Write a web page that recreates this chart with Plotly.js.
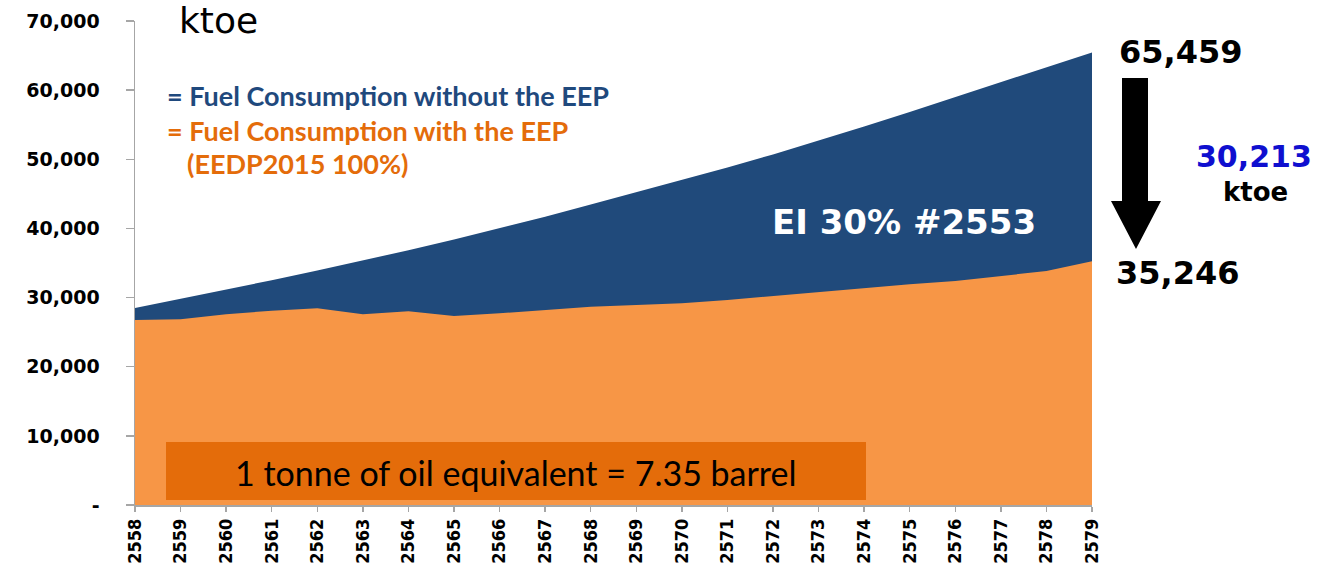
<!DOCTYPE html>
<html>
<head>
<meta charset="utf-8">
<script src="https://cdn.plot.ly/plotly-3.0.1.min.js"></script>
<style>
  html, body { margin: 0; padding: 0; background: #ffffff; }
  #chart { width: 1324px; height: 564px; }
</style>
</head>
<body>
<div id="chart"></div>
<script>
// ---- data (ktoe) ----
const years = [2558, 2559, 2560, 2561, 2562, 2563, 2564, 2565, 2566, 2567, 2568,
               2569, 2570, 2571, 2572, 2573, 2574, 2575, 2576, 2577, 2578, 2579];
const withoutEEP = [28500, 29800, 31150, 32500, 33900, 35350, 36850, 38400, 40000, 41700, 43450,
                    45200, 46950, 48800, 50700, 52700, 54750, 56850, 59000, 61150, 63280, 65459];
const withEEP = [26760, 26860, 27600, 28100, 28450, 27580, 28010, 27340, 27720, 28200, 28680,
                 28920, 29170, 29650, 30230, 30850, 31340, 31920, 32400, 33120, 33840, 35246];
const yTickVals = [0, 10000, 20000, 30000, 40000, 50000, 60000, 70000];
const yTickText = ['-', '10,000', '20,000', '30,000', '40,000', '50,000', '60,000', '70,000'];
const legendWithout = '= Fuel Consumption without the EEP';
const legendWith = '= Fuel Consumption with the EEP';
const legendWith2 = '(EEDP2015 100%)';
const unitLabel = 'ktoe';
const eiLabel = 'EI 30% #2553';
const noteLabel = '1 tonne of oil equivalent = 7.35 barrel';
const startLabel = '65,459';
const diffLabel = '30,213';
const endLabel = '35,246';

// ---- styling ----
const BLUE = '#204a7b';
const ORANGE = '#f79646';
const DARK_ORANGE = '#e46c0a';
const AXIS = '#a6a6a6';

// plot-area pixel frame -> paper coordinates for decorations
const L = 135, R = 1092, T = 21, B = 505;
const px = x => (x - L) / (R - L);
const py = y => (B - y) / (B - T);

const traces = [
  {
    x: years, y: withoutEEP, type: 'scatter', mode: 'lines',
    line: {width: 0, color: BLUE}, fill: 'tozeroy', fillcolor: BLUE,
    hoverinfo: 'skip', showlegend: false
  },
  {
    x: years, y: withEEP, type: 'scatter', mode: 'lines',
    line: {width: 0, color: ORANGE}, fill: 'tozeroy', fillcolor: ORANGE,
    hoverinfo: 'skip', showlegend: false
  }
];

const arrowPath = [
  ['M', 1122, 78], ['L', 1148, 78], ['L', 1148, 201], ['L', 1161, 201],
  ['L', 1136, 249], ['L', 1111, 201], ['L', 1122, 201]
].map(p => p[0] + ' ' + px(p[1]).toFixed(5) + ',' + py(p[2]).toFixed(5)).join(' ') + ' Z';

const boldSans = 'DejaVu Sans';
const calibriLike = 'Lato, "Open Sans", sans-serif';

const layout = {
  width: 1324, height: 564,
  margin: {l: L, r: 1324 - R, t: T, b: 564 - B, pad: 0},
  paper_bgcolor: '#ffffff', plot_bgcolor: '#ffffff',
  hovermode: false,
  showlegend: false,
  xaxis: {
    range: [years[0], years[years.length - 1]],
    tickvals: years, ticktext: years.map(String),
    tickangle: -90,
    ticks: 'outside', ticklen: 5, tickwidth: 1.5, tickcolor: AXIS,
    showline: true, linecolor: AXIS, linewidth: 1.5,
    showgrid: false, zeroline: false,
    tickfont: {family: '"Liberation Sans Narrow", "DejaVu Sans Condensed", sans-serif', size: 18, color: '#000', weight: 'bold'}
  },
  yaxis: {
    range: [0, 70000],
    tickvals: yTickVals, ticktext: yTickText,
    ticks: 'outside', ticklen: 8, tickwidth: 1.5, tickcolor: AXIS,
    ticklabelstandoff: 22,
    showline: true, linecolor: AXIS, linewidth: 1.5,
    showgrid: false, zeroline: false,
    tickfont: {family: boldSans, size: 19, color: '#000', weight: 'bold'}
  },
  shapes: [
    {type: 'rect', xref: 'paper', yref: 'paper',
     x0: px(166), x1: px(866), y0: py(500), y1: py(442),
     fillcolor: DARK_ORANGE, line: {width: 0}, layer: 'above'},
    {type: 'path', xref: 'paper', yref: 'paper', path: arrowPath,
     fillcolor: '#000000', line: {width: 0}, layer: 'above'}
  ],
  annotations: [
    {text: unitLabel, xref: 'paper', yref: 'paper', x: px(177), y: py(20),
     xanchor: 'left', yanchor: 'middle', showarrow: false,
     font: {family: '"DejaVu Sans", sans-serif', size: 36, color: '#000'}},
    {text: legendWithout, xref: 'paper', yref: 'paper', x: px(165), y: py(95),
     xanchor: 'left', yanchor: 'middle', showarrow: false,
     font: {family: calibriLike, size: 27, color: '#1f497d', weight: 'bold'}},
    {text: legendWith, xref: 'paper', yref: 'paper', x: px(165), y: py(130),
     xanchor: 'left', yanchor: 'middle', showarrow: false,
     font: {family: calibriLike, size: 27, color: DARK_ORANGE, weight: 'bold'}},
    {text: legendWith2, xref: 'paper', yref: 'paper', x: px(185), y: py(163),
     xanchor: 'left', yanchor: 'middle', showarrow: false,
     font: {family: calibriLike, size: 27, color: DARK_ORANGE, weight: 'bold'}},
    {text: eiLabel, xref: 'paper', yref: 'paper', x: px(904), y: py(222),
     xanchor: 'center', yanchor: 'middle', showarrow: false,
     font: {family: boldSans, size: 34, color: '#ffffff', weight: 'bold'}},
    {text: noteLabel, xref: 'paper', yref: 'paper', x: px(516), y: py(472),
     xanchor: 'center', yanchor: 'middle', showarrow: false,
     font: {family: calibriLike, size: 34, color: '#000'}},
    {text: startLabel, xref: 'paper', yref: 'paper', x: px(1180), y: py(52),
     xanchor: 'center', yanchor: 'middle', showarrow: false,
     font: {family: boldSans, size: 32, color: '#000', weight: 'bold'}},
    {text: diffLabel, xref: 'paper', yref: 'paper', x: px(1254), y: py(156),
     xanchor: 'center', yanchor: 'middle', showarrow: false,
     font: {family: boldSans, size: 30, color: '#0f0fcf', weight: 'bold'}},
    {text: unitLabel, xref: 'paper', yref: 'paper', x: px(1255), y: py(192),
     xanchor: 'center', yanchor: 'middle', showarrow: false,
     font: {family: boldSans, size: 26, color: '#000', weight: 'bold'}},
    {text: endLabel, xref: 'paper', yref: 'paper', x: px(1177), y: py(273),
     xanchor: 'center', yanchor: 'middle', showarrow: false,
     font: {family: boldSans, size: 32, color: '#000', weight: 'bold'}}
  ]
};

Plotly.newPlot('chart', traces, layout, {displayModeBar: false, staticPlot: true});
</script>
</body>
</html>
